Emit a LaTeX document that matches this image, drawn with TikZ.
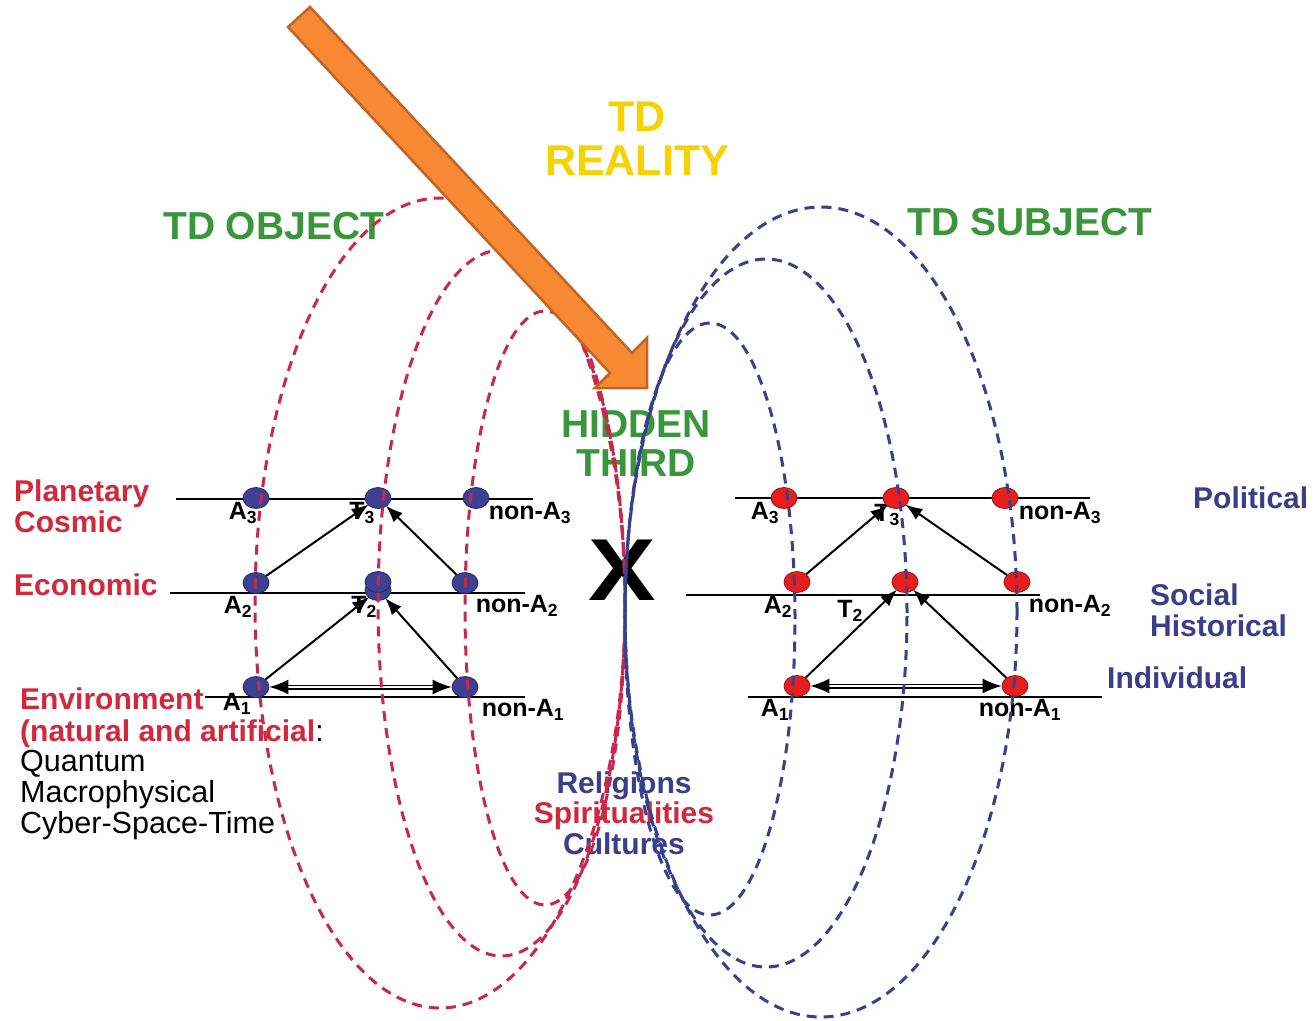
\documentclass[tikz,border=0pt]{standalone}
\usepackage{fontspec}
\setmainfont{Liberation Sans}
\usetikzlibrary{arrows.meta,shapes.geometric}
\definecolor{tdred}{RGB}{210,40,60}
\definecolor{tdblue}{RGB}{60,62,140}
\definecolor{tdgreen}{RGB}{58,150,58}
\definecolor{tdyellow}{RGB}{245,210,0}
\definecolor{arrfill}{RGB}{247,137,52}
\definecolor{arrdraw}{RGB}{196,100,35}
\definecolor{dashred}{RGB}{200,40,75}
\definecolor{dashblue}{RGB}{55,65,140}
\definecolor{bdotfill}{RGB}{62,64,148}
\definecolor{bdotdraw}{RGB}{40,40,100}
\definecolor{rdotfill}{RGB}{232,30,30}
\definecolor{rdotdraw}{RGB}{150,20,20}
\tikzset{
  bigtxt/.style={font=\bfseries\fontsize{43}{44}\selectfont, inner sep=0pt},
  midtxt/.style={font=\bfseries\fontsize{39}{39}\selectfont, inner sep=0pt},
  lvltxt/.style={font=\bfseries\fontsize{30}{31}\selectfont, inner sep=0pt},
  plaintxt/.style={font=\fontsize{30.5}{31}\selectfont, inner sep=0pt},
  smalltxt/.style={font=\bfseries\fontsize{25}{26}\selectfont, inner sep=0pt},
  bdot/.style={ellipse, draw=bdotdraw, line width=0.8pt, fill=bdotfill, minimum width=26pt, minimum height=21pt, inner sep=0pt},
  rdot/.style={ellipse, draw=rdotdraw, line width=0.8pt, fill=rdotfill, minimum width=26pt, minimum height=21pt, inner sep=0pt},
  level/.style={line width=2pt, black},
  conn/.style={-{Latex[length=17pt,width=13pt]}, line width=2pt, black, shorten >=-1pt},
  dblconn/.style={{Latex[length=19pt,width=15pt]}-{Latex[length=19pt,width=15pt]}, line width=1.5pt, double, double distance=2pt, black},
  reddash/.style={draw=dashred, line width=3pt, dash pattern=on 10pt off 7pt},
  bluedash/.style={draw=dashblue, line width=3pt, dash pattern=on 10pt off 7pt},
}
\begin{document}
\begin{tikzpicture}[x=1pt,y=-1pt]
\useasboundingbox (0,0) rectangle (1314,1020);
\fill[white] (0,0) rectangle (1314,1020);

% ---------- texts ----------
\node[bigtxt, text=tdyellow, anchor=base] (tdr1) at (637,131) {TD};
\node[bigtxt, text=tdyellow, anchor=base] (tdr2) at (637,175) {REALITY};
\node[midtxt, text=tdgreen, anchor=base west] (tdobj) at (163,239) {TD OBJECT};
\node[midtxt, text=tdgreen, anchor=base west] (tdsub) at (907,235) {TD SUBJECT};
\node[midtxt, text=tdgreen, anchor=base] (hid1) at (636,437) {HIDDEN};
\node[midtxt, text=tdgreen, anchor=base] (hid2) at (636,476) {THIRD};
\node[font=\bfseries\fontsize{88}{88}\selectfont, inner sep=0pt, anchor=base, xscale=1.15] (xmark) at (622,600) {X};

\node[lvltxt, text=tdred, anchor=base west] (planet) at (14,501) {Planetary};
\node[lvltxt, text=tdred, anchor=base west] (cosmic) at (14,532) {Cosmic};
\node[lvltxt, text=tdred, anchor=base west] (econ) at (14,595) {Economic};
\node[lvltxt, text=tdred, anchor=base west] (envir) at (20,709) {Environment};
\node[lvltxt, text=tdred, anchor=base west] (natart) at (20,741) {(natural and artificial\textmd{\color{black}:}};
\node[plaintxt, anchor=base west] (quant) at (20,771) {Quantum};
\node[plaintxt, anchor=base west] (macro) at (20,802) {Macrophysical};
\node[plaintxt, anchor=base west] (cyber) at (20,833) {Cyber-Space-Time};

\node[lvltxt, text=tdblue, anchor=base west] (polit) at (1193,508) {Political};
\node[lvltxt, text=tdblue, anchor=base west] (social) at (1150,605) {Social};
\node[lvltxt, text=tdblue, anchor=base west] (hist) at (1150,636) {Historical};
\node[lvltxt, text=tdblue, anchor=base west] (indiv) at (1107,688) {Individual};

\node[lvltxt, text=tdblue, anchor=base] (relig) at (624,793) {Religions};
\node[lvltxt, text=tdred, anchor=base] (spirit) at (624,823) {Spiritualities};
\node[lvltxt, text=tdblue, anchor=base] (cult) at (624,854) {Cultures};

% ---------- level lines ----------
\coordinate (l3a) at (176,499); \coordinate (l3b) at (533,499);
\coordinate (l2a) at (170,593); \coordinate (l2b) at (525,593);
\coordinate (l1a) at (205,697); \coordinate (l1b) at (525,697);
\coordinate (r3a) at (735,498); \coordinate (r3b) at (1090,498);
\coordinate (r2a) at (686,595); \coordinate (r2b) at (1040,595);
\coordinate (r1a) at (748,697); \coordinate (r1b) at (1102,697);
\draw[level] (l3a) -- (l3b);
\draw[level] (l2a) -- (l2b);
\draw[level] (l1a) -- (l1b);
\draw[level] (r3a) -- (r3b);
\draw[level] (r2a) -- (r2b);
\draw[level] (r1a) -- (r1b);

% ---------- small labels ----------
\node[smalltxt] (tla3) at (243,513) {A\textsubscript{3}};
\node[smalltxt] (tlt3) at (362,513) {T\textsubscript{3}};
\node[smalltxt] (tlna3) at (530,513) {non-A\textsubscript{3}};
\node[smalltxt] (tla2) at (238,607) {A\textsubscript{2}};
\node[smalltxt] (tlt2) at (364,607) {T\textsubscript{2}};
\node[smalltxt] (tlna2) at (517,606) {non-A\textsubscript{2}};
\node[smalltxt] (tla1) at (237,704) {A\textsubscript{1}};
\node[smalltxt] (tlna1) at (523,710) {non-A\textsubscript{1}};

\node[smalltxt] (tra3) at (765,513) {A\textsubscript{3}};
\node[smalltxt] (trt3) at (887,515) {T\textsubscript{3}};
\node[smalltxt] (trna3) at (1060,513) {non-A\textsubscript{3}};
\node[smalltxt] (tra2) at (778,607) {A\textsubscript{2}};
\node[smalltxt] (trt2) at (850,611) {T\textsubscript{2}};
\node[smalltxt] (trna2) at (1070,606) {non-A\textsubscript{2}};
\node[smalltxt] (tra1) at (775,710) {A\textsubscript{1}};
\node[smalltxt] (trna1) at (1020,710) {non-A\textsubscript{1}};

% ---------- dots ----------
\node[bdot] (la3) at (256,498) {};
\node[bdot] (lt3) at (378,498) {};
\node[bdot] (lna3) at (476,498) {};
\node[bdot] (la2) at (256,583) {};
\node[bdot] (lt2b) at (378,590) {};
\node[bdot] (lt2) at (378,582) {};
\node[bdot] (lna2) at (465,583) {};
\node[bdot] (la1) at (256,687) {};
\node[bdot] (lna1) at (465,687) {};

\node[rdot] (ra3) at (784,498) {};
\node[rdot] (rt3) at (896,498) {};
\node[rdot] (rna3) at (1005,498) {};
\node[rdot] (ra2) at (797,582) {};
\node[rdot] (rt2) at (905,582) {};
\node[rdot] (rna2) at (1017,582) {};
\node[rdot] (ra1) at (797,686) {};
\node[rdot] (rna1) at (1015,686) {};

% ---------- connectors ----------
\draw[conn] (la2) -- (lt3);
\draw[conn] (lna2) -- (lt3);
\draw[conn] (la1) -- (lt2b);
\draw[conn] (lna1) -- (lt2b);
\draw[dblconn] (la1) -- (lna1);

\draw[conn] (ra2) -- (rt3);
\draw[conn] (rna2) -- (rt3);
\draw[conn] (ra1) -- (rt2);
\draw[conn] (rna1) -- (rt2);
\draw[dblconn] (ra1) -- (rna1);

% ---------- dashed loops ----------
\draw[reddash] (440,603) ellipse [x radius=185pt, y radius=405pt];
\draw[reddash] (501.5,603) ellipse [x radius=123.5pt, y radius=353pt];
\draw[reddash] (545,608) ellipse [x radius=80pt, y radius=297pt];

\draw[bluedash] (821,612) ellipse [x radius=196pt, y radius=405pt];
\draw[bluedash] (766,613) ellipse [x radius=141pt, y radius=354pt];
\draw[bluedash] (710,619) ellipse [x radius=85pt, y radius=296pt];

% ---------- orange arrow ----------
\draw[fill=arrfill, draw=arrdraw, line width=2.5pt, line join=miter]
  (310,7) -- (632,353) -- (647,338) -- (647,388) -- (595,388) -- (610,373) -- (288,27) -- cycle;
\end{tikzpicture}
\end{document}
